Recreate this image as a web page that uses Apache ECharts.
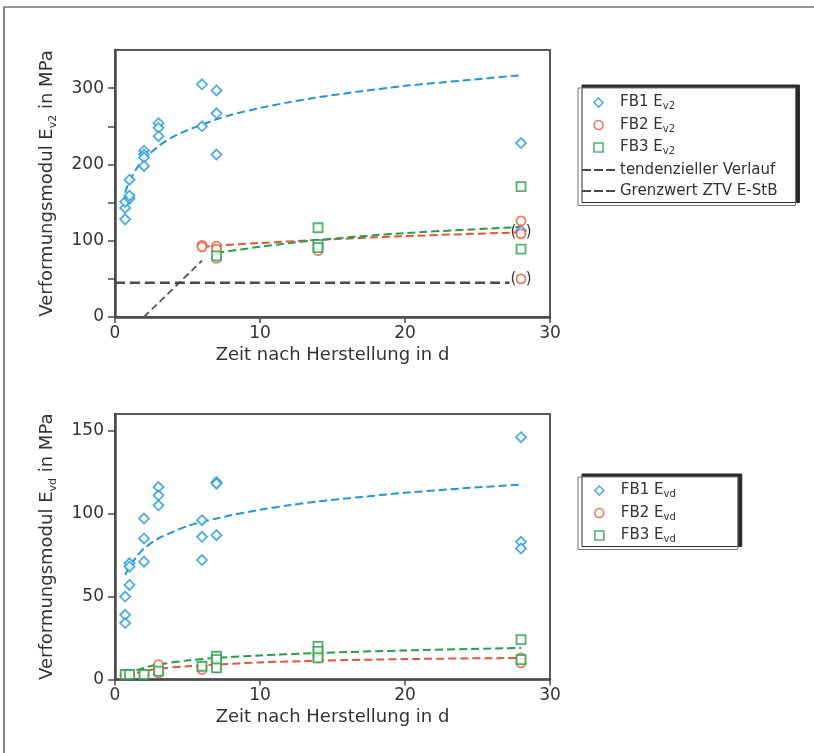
<!DOCTYPE html>
<html><head><meta charset="utf-8">
<script src="https://cdn.jsdelivr.net/npm/echarts@6/dist/echarts.min.js"></script>
<style>html,body{margin:0;padding:0;background:#fff}#c{width:814px;height:753px}</style>
</head><body><div id="c"></div>
<script>
// ---- tick values ----
const xTicks = [0, 10, 20, 30];
const ev2Ticks = [0, 100, 200, 300];
const ev2TickMarks = [0, 50, 100, 150, 200, 250, 300];
const evdTicks = [0, 50, 100, 150];

// ---- top chart: Ev2 measurements [day, MPa] ----
const fb1Ev2 = [[0.7,128],[0.7,143],[0.7,151],[1,155],[1,159],[1,180],[2,218],[2,213],[2,209],[2,198],
  [3,254],[3,248],[3,237],[6,305],[6,250],[7,297],[7,267],[7,213],[28,228],[28,113]];
const fb2Ev2 = [[6,94],[6,92],[7,93],[7,89],[7,77],[14,87],[28,126],[28,109],[28,50]];
const fb3Ev2 = [[7,80],[14,117],[14,95],[14,91],[28,171],[28,89]];
const bracketedEv2 = [[28,111],[28,50]];

// trend curves
const trendFb1Ev2Days = [0.7,1,1.5,2,3,4,5,6,7,8,10,12,14,17,20,24,28];
const trendFb1Ev2 = [163,178,195,207,224,236,245,252,259,265,274,281.5,288,296,303,310,317];
const trendFb2Ev2Days = [6,7,10,14,20,28];
const trendFb2Ev2 = [92,93.5,97,101,106,111];
const trendFb3Ev2Days = [7,10,14,20,28];
const trendFb3Ev2 = [84,92,101,110,118];
const trendGreyDays = [2,6];
const trendGrey = [0,74];
const limitDays = [0,27.2];
const limitEv2 = [45,45];

// ---- bottom chart: Evd measurements ----
const fb1Evd = [[0.7,50],[0.7,39],[0.7,34],[1,70],[1,68],[1,57],[2,97],[2,85],[2,71],[3,116],[3,111],[3,105],
  [6,96],[6,86],[6,72],[7,119],[7,118],[7,87],[28,146],[28,83],[28,79]];
const fb2Evd = [[0.7,3],[1,3],[2,3],[3,9],[3,4],[6,8],[6,6],[7,7],[14,13],[28,13],[28,10]];
const fb3Evd = [[0.7,3],[1,3],[2,3],[3,5],[6,8],[7,14],[7,12],[7,7],[14,20],[14,17],[14,13],[28,24],[28,12]];
const trendFb1EvdDays = [0.7,1,1.5,2,3,4,5,6,7,8,10,12,14,17,20,24,28];
const trendFb1Evd = [63,68,74,79,85,89,92.5,95,97,99,102.3,105,107.3,110,112.5,115.2,117.5];
const trendFb2EvdDays = [0.7,1,2,3,5,7,10,14,20,28];
const trendFb2Evd = [2.5,3,5,6.5,8,9,10.3,11.3,12.3,13];
const trendFb3EvdDays = [0.7,1,2,3,5,7,10,14,20,28];
const trendFb3Evd = [3,4,7,9,11.5,13,14.5,16,17.5,19];

const BLUE = '#1f98d8', RED = '#e8553a', GREEN = '#22a04a', GREY = '#4a4a4a';
const FONT = 'DejaVu Sans';
const zip = (xs, ys) => xs.map((x, i) => [x, ys[i]]);

const ICON_DIAMOND = 'path://M0,-5L5,0L0,5L-5,0Z';
const ICON_CIRCLE = 'path://M-5,0A5,5 0 1,0 5,0A5,5 0 1,0 -5,0Z';
const ICON_SQUARE = 'path://M-5,-5H5V5H-5Z';
const ICON_DASH = 'path://M0,0h9v2h-9z M12,0h9v2h-9z M24,0h9v2h-9z';

function scatter(name, data, symbol, color, idx) {
  return { name, type: 'scatter', xAxisIndex: idx, yAxisIndex: idx, data, symbol, symbolSize: symbol === 'diamond' ? 10 : 9,
    itemStyle: { color: '#fff', borderColor: color, borderWidth: 1.8 }, z: 5 };
}
function line(name, data, color, idx, dash, w) {
  return { name, type: 'line', xAxisIndex: idx, yAxisIndex: idx, data, symbol: 'none', smooth: 0.3,
    lineStyle: { color, width: w || 2, type: dash || [8, 4] }, itemStyle: { color }, z: 3, silent: true };
}

const axisLineStyle = { show: true, onZero: false, lineStyle: { color: GREY, width: 2.5 } };
function xAxis(idx) {
  return { type: 'value', gridIndex: idx, min: 0, max: 30, interval: 10,
    name: 'Zeit nach Herstellung in d', nameLocation: 'middle', nameGap: 29,
    nameTextStyle: { fontFamily: FONT, fontSize: 18, color: '#333' },
    axisLine: axisLineStyle, axisTick: { show: true, length: 6, customValues: xTicks, lineStyle: { color: GREY, width: 1.5 } },
    axisLabel: { margin: 8, fontFamily: FONT, fontSize: 17, color: '#333', customValues: xTicks }, splitLine: { show: false } };
}
function yAxis(idx, max, labels, ticks, sub) {
  return { type: 'value', gridIndex: idx, min: 0, max, interval: 50,
    name: '{a|Verformungsmodul E}{s|' + sub + '}{a| in MPa}', nameLocation: 'middle', nameGap: 56, nameRotate: 90,
    nameTextStyle: { fontFamily: FONT, fontSize: 18, color: '#333',
      rich: { a: { fontFamily: FONT, fontSize: 18, color: '#333', lineHeight: 24 },
              s: { fontFamily: FONT, fontSize: 11, color: '#333', lineHeight: 24, verticalAlign: 'bottom' } } },
    axisLine: axisLineStyle,
    axisTick: { show: true, length: 7, customValues: ticks, lineStyle: { color: GREY, width: 1.5 } },
    axisLabel: { margin: 11, fontFamily: FONT, fontSize: 17, color: '#333', customValues: labels },
    splitLine: { show: false } };
}

const legendRich = { n: { fontFamily: FONT, fontSize: 15, color: '#333', lineHeight: 18 },
  s: { fontFamily: FONT, fontSize: 10, color: '#333', lineHeight: 18, verticalAlign: 'bottom' } };
function legendFmt(name) {
  const m = name.match(/^(FB\d E)(v2|vd)$/);
  return m ? '{n|' + m[1] + '}{s|' + m[2] + '}' : '{n|' + name + '}';
}
function markItem(name, icon, color) {
  return { name, icon, itemStyle: { color: '#fff', borderColor: color, borderWidth: 1.6 } };
}
function dashItem(name) {
  return { name, icon: ICON_DASH, itemStyle: { color: GREY, borderWidth: 0 } };
}
function legend(top, data, pad) {
  return { orient: 'vertical', left: 578, top, data, formatter: legendFmt,
    itemWidth: 33, itemHeight: 9, itemGap: 6, padding: pad,
    backgroundColor: '#fff', borderColor: '#777', borderWidth: 1,
    shadowColor: '#2a2a2a', shadowBlur: 0, shadowOffsetX: 4, shadowOffsetY: -3,
    textStyle: { fontFamily: FONT, fontSize: 15, color: '#333', rich: legendRich }, selectedMode: false };
}

const bracketSeries = { name: 'bracket', type: 'scatter', xAxisIndex: 0, yAxisIndex: 0, data: bracketedEv2,
  symbol: 'circle', symbolSize: 1, itemStyle: { opacity: 0 }, z: 6, silent: true,
  label: { show: true, position: 'inside', formatter: '(  )', fontFamily: FONT, fontSize: 15, color: '#333', opacity: 1 } };

const option = {
  animation: false,
  backgroundColor: '#fff',
  graphic: [{ type: 'rect', shape: { x: 4, y: 7, width: 900, height: 900 }, style: { fill: 'none', stroke: '#333', lineWidth: 1.2 }, z: -10 }],
  grid: [
    { left: 115, top: 50, width: 435, height: 267, show: true, borderColor: '#5a5a5a', borderWidth: 2, backgroundColor: 'transparent' },
    { left: 115, top: 414, width: 435, height: 265.5, show: true, borderColor: '#5a5a5a', borderWidth: 2, backgroundColor: 'transparent' }
  ],
  xAxis: [xAxis(0), xAxis(1)],
  yAxis: [yAxis(0, 350, ev2Ticks, ev2TickMarks, 'v2'), yAxis(1, 160, evdTicks, evdTicks, 'vd')],
  legend: [
    legend(88, [markItem('FB1 Ev2', ICON_DIAMOND, BLUE), markItem('FB2 Ev2', ICON_CIRCLE, RED), markItem('FB3 Ev2', ICON_SQUARE, GREEN),
      dashItem('tendenzieller Verlauf'), dashItem('Grenzwert ZTV E-StB')], [7, 18, 7, 4]),
    legend(477, [markItem('FB1 Evd', ICON_DIAMOND, BLUE), markItem('FB2 Evd', ICON_CIRCLE, RED), markItem('FB3 Evd', ICON_SQUARE, GREEN)], [6, 62, 5, 16])
  ],
  series: [
    line('FB1 trend Ev2', zip(trendFb1Ev2Days, trendFb1Ev2), BLUE, 0),
    line('FB2 trend Ev2', zip(trendFb2Ev2Days, trendFb2Ev2), RED, 0),
    line('FB3 trend Ev2', zip(trendFb3Ev2Days, trendFb3Ev2), GREEN, 0),
    line('tendenzieller Verlauf', zip(trendGreyDays, trendGrey), '#555', 0, [7, 4], 1.8),
    line('Grenzwert ZTV E-StB', zip(limitDays, limitEv2), GREY, 0, [10, 5], 2.5),
    scatter('FB1 Ev2', fb1Ev2, 'diamond', BLUE, 0),
    scatter('FB2 Ev2', fb2Ev2, 'circle', RED, 0),
    scatter('FB3 Ev2', fb3Ev2, 'rect', GREEN, 0),
    bracketSeries,
    line('FB1 trend Evd', zip(trendFb1EvdDays, trendFb1Evd), BLUE, 1),
    line('FB2 trend Evd', zip(trendFb2EvdDays, trendFb2Evd), RED, 1),
    line('FB3 trend Evd', zip(trendFb3EvdDays, trendFb3Evd), GREEN, 1),
    scatter('FB1 Evd', fb1Evd, 'diamond', BLUE, 1),
    scatter('FB2 Evd', fb2Evd, 'circle', RED, 1),
    scatter('FB3 Evd', fb3Evd, 'rect', GREEN, 1)
  ]
};
const chart = echarts.init(document.getElementById('c'), null, { renderer: 'canvas' });
chart.setOption(option);
</script></body></html>
